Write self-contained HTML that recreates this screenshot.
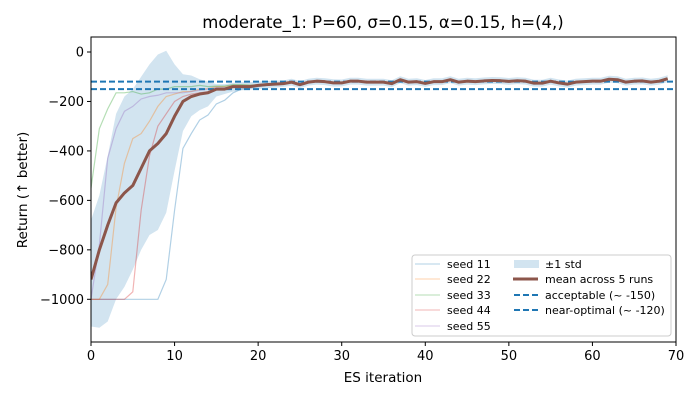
<!DOCTYPE html>
<html><head><meta charset="utf-8"><style>
html,body{margin:0;padding:0;background:#fff;width:700px;height:400px;overflow:hidden}
svg{font-family:"DejaVu Sans","Liberation Sans",sans-serif}
</style></head><body>
<svg id="chart" width="700" height="400" viewBox="0 0 700 400">
<text x="383" y="28" font-size="16.5" text-anchor="middle">moderate_1: P=60, σ=0.15, α=0.15, h=(4,)</text>
<g id="plot"></g>
<g id="axes"></g>
<text x="383" y="382" font-size="13.5" text-anchor="middle">ES iteration</text>
<text transform="translate(27,190) rotate(-90)" font-size="13.5" text-anchor="middle">Return (↑ better)</text>
<g>
<rect x="412" y="255" width="259" height="81" rx="3" fill="#fff" fill-opacity="0.85" stroke="#ccc"/>
<g font-size="11">
<g><line x1="415" x2="440" y1="264" y2="264" stroke="#1f77b4" stroke-opacity="0.35"/><text x="447" y="268">seed 11</text></g>
<g><line x1="415" x2="440" y1="279" y2="279" stroke="#ff7f0e" stroke-opacity="0.35"/><text x="447" y="283">seed 22</text></g>
<g><line x1="415" x2="440" y1="295" y2="295" stroke="#2ca02c" stroke-opacity="0.35"/><text x="447" y="299">seed 33</text></g>
<g><line x1="415" x2="440" y1="310" y2="310" stroke="#d62728" stroke-opacity="0.35"/><text x="447" y="314">seed 44</text></g>
<g><line x1="415" x2="440" y1="326" y2="326" stroke="#9467bd" stroke-opacity="0.35"/><text x="447" y="330">seed 55</text></g>
<g><rect x="514" y="260" width="25" height="8" fill="#1f77b4" fill-opacity="0.2"/><text x="545" y="268">±1 std</text></g>
<g><line x1="513" x2="538" y1="279" y2="279" stroke="#8c564b" stroke-width="3"/><text x="545" y="283">mean across 5 runs</text></g>
<g><line x1="514" x2="538" y1="295" y2="295" stroke="#1f77b4" stroke-width="2" stroke-dasharray="6,3"/><text x="545" y="299">acceptable (~ -150)</text></g>
<g><line x1="514" x2="538" y1="310" y2="310" stroke="#1f77b4" stroke-width="2" stroke-dasharray="6,3"/><text x="545" y="314">near-optimal (~ -120)</text></g>
</g></g>
</svg>
<script>
const meanVals=[-920,-800,-700,-610,-570,-540,-470,-400,-370,-330,-260,-200,-180,-170,-165,-150,-150,-140,-140,-140,-135,-132,-130,-128,-122,-132,-122,-118,-120,-125,-125,-118,-118,-122,-122,-122,-128,-112,-122,-120,-127,-120,-120,-112,-122,-118,-120,-117,-115,-116,-119,-116,-118,-126,-126,-118,-125,-130,-122,-120,-118,-118,-110,-112,-122,-118,-117,-122,-118,-108];
const upperVals=[-680,-580,-420,-250,-180,-150,-100,-50,-10,5,-50,-90,-95,-110,-120,-130,-130,-125,-122,-122,-120,-118,-116,-115,-108,-118,-108,-104,-106,-110,-111,-104,-104,-108,-108,-108,-114,-98,-108,-106,-113,-106,-106,-98,-108,-104,-106,-103,-101,-102,-105,-102,-104,-112,-112,-104,-111,-116,-108,-106,-104,-104,-96,-98,-108,-104,-103,-108,-104,-94];
const lowerVals=[-1110,-1115,-1090,-1000,-950,-880,-800,-740,-720,-650,-480,-320,-260,-235,-220,-180,-170,-160,-155,-152,-150,-146,-144,-141,-136,-146,-136,-132,-134,-140,-139,-132,-132,-136,-136,-136,-142,-126,-136,-134,-141,-134,-134,-126,-136,-132,-134,-131,-129,-130,-133,-130,-132,-140,-140,-132,-139,-144,-136,-134,-132,-132,-124,-126,-136,-132,-131,-136,-132,-122];
const seed11=[-1000,-1000,-1000,-1000,-1000,-1000,-1000,-1000,-1000,-920,-640,-390,-330,-275,-255,-210,-195,-165,-150,-145,-140,-135,-132,-130,-125,-135,-125,-120,-122,-128,-128,-120,-120,-125,-125,-125,-130,-115,-125,-122,-130,-122,-122,-115,-125,-120,-122,-120,-118,-118,-122,-118,-120,-130,-128,-120,-128,-132,-125,-122,-120,-120,-112,-115,-125,-120,-120,-125,-120,-110];
const seed22=[-1000,-1000,-940,-630,-450,-350,-330,-280,-220,-180,-170,-160,-160,-150,-148,-140,-140,-135,-135,-135,-132,-130,-128,-126,-120,-130,-120,-116,-118,-122,-122,-116,-116,-120,-120,-120,-126,-110,-120,-118,-125,-118,-118,-110,-120,-116,-118,-115,-113,-114,-117,-114,-116,-124,-124,-116,-123,-128,-120,-118,-116,-116,-108,-110,-120,-116,-115,-120,-116,-106];
const seed33=[-550,-310,-230,-165,-165,-160,-170,-165,-150,-150,-140,-140,-140,-135,-140,-138,-138,-132,-132,-134,-133,-130,-129,-127,-121,-131,-121,-117,-119,-124,-124,-117,-117,-121,-121,-121,-127,-111,-121,-119,-126,-119,-119,-111,-121,-117,-119,-116,-114,-115,-118,-115,-117,-125,-125,-117,-124,-129,-121,-119,-117,-117,-109,-111,-121,-117,-116,-121,-117,-107];
const seed44=[-1000,-1000,-1000,-1000,-1000,-970,-640,-420,-300,-250,-200,-180,-170,-165,-160,-150,-150,-142,-142,-140,-136,-133,-131,-129,-123,-133,-123,-119,-121,-126,-126,-119,-119,-123,-123,-123,-129,-113,-123,-121,-128,-121,-121,-113,-123,-119,-121,-118,-116,-117,-120,-117,-119,-127,-127,-119,-126,-131,-123,-121,-119,-119,-111,-113,-123,-119,-118,-123,-119,-109];
const seed55=[-1000,-780,-430,-310,-240,-220,-190,-180,-175,-165,-165,-165,-160,-155,-150,-145,-145,-140,-138,-138,-134,-132,-130,-128,-122,-132,-122,-118,-120,-125,-125,-118,-118,-122,-122,-122,-128,-112,-122,-120,-127,-120,-120,-112,-122,-118,-120,-117,-115,-116,-119,-116,-118,-126,-126,-118,-125,-130,-122,-120,-118,-118,-110,-112,-122,-118,-117,-122,-118,-108];
const xTicks=[0,10,20,30,40,50,60,70];
const yTicks=[0,-200,-400,-600,-800,-1000];
const acceptable=-150, nearOptimal=-120;

const L=91,R=676,T=37,B=342;
const X=v=>L+(v-0)/70*(R-L);
const Y=v=>52+(0-v)/1000*(299.3-52);
const NS='http://www.w3.org/2000/svg';
const plot=document.getElementById('plot'), axes=document.getElementById('axes');
function mk(tag,attrs,parent){const e=document.createElementNS(NS,tag);for(const k in attrs)e.setAttribute(k,attrs[k]);parent.appendChild(e);return e;}
const clip=mk('clipPath',{id:'cp'},plot);mk('rect',{x:L,y:T,width:R-L,height:B-T},clip);
const g=mk('g',{'clip-path':'url(#cp)'},plot);
// band
let d='';upperVals.forEach((v,i)=>{d+=(i?'L':'M')+X(i)+','+Y(v);});
for(let i=lowerVals.length-1;i>=0;i--)d+='L'+X(i)+','+Y(lowerVals[i]);
const band=mk('path',{d:d+'Z',fill:'#1f77b4','fill-opacity':0.2},g);


const seeds=[[seed11,'#1f77b4','seed-11-line'],[seed22,'#ff7f0e','seed-22-line'],[seed33,'#2ca02c','seed-33-line'],[seed44,'#d62728','seed-44-line'],[seed55,'#9467bd','seed-55-line']];
function pts(a){return a.map((v,i)=>X(i)+','+Y(v)).join(' ');}
seeds.forEach(s=>{const p=mk('polyline',{points:pts(s[0]),fill:'none',stroke:s[1],'stroke-opacity':0.35,'stroke-width':1.2},g);

});
const ac=mk('line',{x1:L,x2:R,y1:Y(acceptable),y2:Y(acceptable),stroke:'#1f77b4','stroke-width':2,'stroke-dasharray':'6,3'},g);


const no=mk('line',{x1:L,x2:R,y1:Y(nearOptimal),y2:Y(nearOptimal),stroke:'#1f77b4','stroke-width':2,'stroke-dasharray':'6,3'},g);


const m=mk('polyline',{points:pts(meanVals),fill:'none',stroke:'#8c564b','stroke-width':3,'stroke-linejoin':'round'},g);


// axes frame
mk('rect',{x:L,y:T,width:R-L,height:B-T,fill:'none',stroke:'#000','stroke-width':1},axes);
xTicks.forEach(t=>{mk('line',{x1:X(t),x2:X(t),y1:B,y2:B+4,stroke:'#000'},axes);
const tx=mk('text',{x:X(t),y:B+18,'font-size':13,'text-anchor':'middle'},axes);tx.textContent=t;

});
yTicks.forEach(t=>{mk('line',{x1:L-4,x2:L,y1:Y(t),y2:Y(t),stroke:'#000'},axes);
const tx=mk('text',{x:L-7,y:Y(t)+4.5,'font-size':13,'text-anchor':'end'},axes);tx.textContent=t<0?'−'+Math.abs(t):t;

});
</script>
</body></html>
